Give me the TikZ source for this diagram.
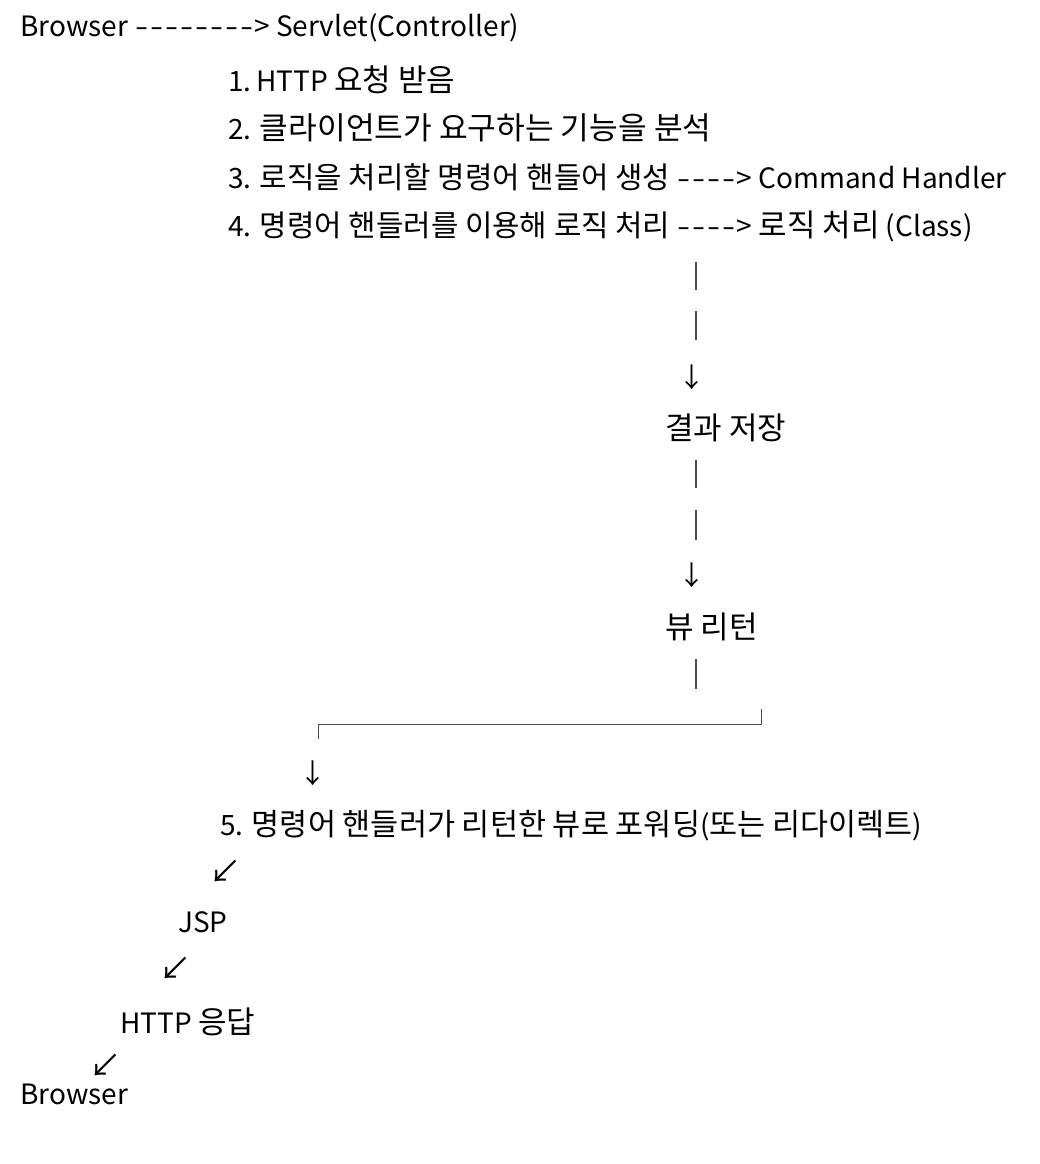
\documentclass[tikz,border=0pt]{standalone}
\usepackage{graphicx}
\usepackage{fontspec}
\setmainfont{Noto Sans CJK KR}[Ligatures=TeXOff]
\newcommand{\K}[1]{{\fontsize{31}{34}\selectfont #1}}
\newcommand{\Ks}[2]{{\fontsize{#1}{34}\selectfont #2}}
\newcommand{\hy}{\makebox[15pt]{\scalebox{1.35}[1]{-}}}
\begin{document}
\begin{tikzpicture}[x=1pt,y=-1pt,
  txt/.style={anchor=west,inner sep=0pt,font=\fontsize{28}{32}\selectfont},
  arr/.style={anchor=center,inner sep=0pt,font=\fontsize{27}{30}\selectfont},
  darr/.style={anchor=center,inner sep=0pt,font=\fontsize{32}{34}\selectfont},
  bar/.style={line width=1.2pt,draw=black!70}]
\useasboundingbox (0,0) rectangle (1040,1164);
\fill[white] (0,0) rectangle (1040,1164);
\node[txt] (l0) at (20,28) {Browser \hy\hy\hy\hy\hy\hy\hy\hy> Servlet(Controller)};
\node[txt] (l1) at (228,80) {1.\,HTTP \K{요청 받음}};
\node[txt] (l2) at (228,128) {2. \Ks{31.2}{클라이언트가 요구하는 기능을 분석}};
\node[txt] (l3) at (228,177) {3. \Ks{29.8}{로직을 처리할 명령어 핸들어 생성} \hy\hy\hy\hy> Command Handler};
\node[txt] (l4) at (228,226) {4. \Ks{29.8}{명령어 핸들러를 이용해 로직 처리} \hy\hy\hy\hy> \K{로직 처리} (Class)};
\coordinate (b1a) at (696,262); \coordinate (b1b) at (696,290);
\coordinate (b2a) at (696,311); \coordinate (b2b) at (696,340);
\draw[bar] (b1a) -- (b1b);
\draw[bar] (b2a) -- (b2b);
\node[arr] (d1) at (692,377) {↓};
\node[txt] (r1) at (665,428) {\K{결과 저장}};
\coordinate (b3a) at (696,460); \coordinate (b3b) at (696,488);
\coordinate (b4a) at (696,510); \coordinate (b4b) at (696,540);
\draw[bar] (b3a) -- (b3b);
\draw[bar] (b4a) -- (b4b);
\node[arr] (d2) at (692,575) {↓};
\node[txt] (r2) at (665,627) {\K{뷰 리턴}};
\coordinate (b5a) at (696,659); \coordinate (b5b) at (696,689);
\draw[bar] (b5a) -- (b5b);
\coordinate (k1) at (761,709); \coordinate (k2) at (761,724);
\coordinate (k3) at (318,724); \coordinate (k4) at (318,739);
\draw[bar,line width=1pt] (k1) -- (k2) -- (k3) -- (k4);
\node[arr] (d3) at (313,773) {↓};
\node[txt] (l5) at (220,826) {5. \Ks{30.5}{명령어 핸들러가 리턴한 뷰로 포워딩}(\Ks{30.5}{또는 리다이렉트})};
\node[darr] (s1) at (225,872) {↙};
\node[txt] (jsp) at (178,922) {JSP};
\node[darr] (s2) at (175,969) {↙};
\node[txt] (resp) at (120,1022) {HTTP \K{응답}};
\node[darr] (s3) at (105,1066) {↙};
\node[txt] (br) at (20,1094) {Browser};
\end{tikzpicture}
\end{document}
